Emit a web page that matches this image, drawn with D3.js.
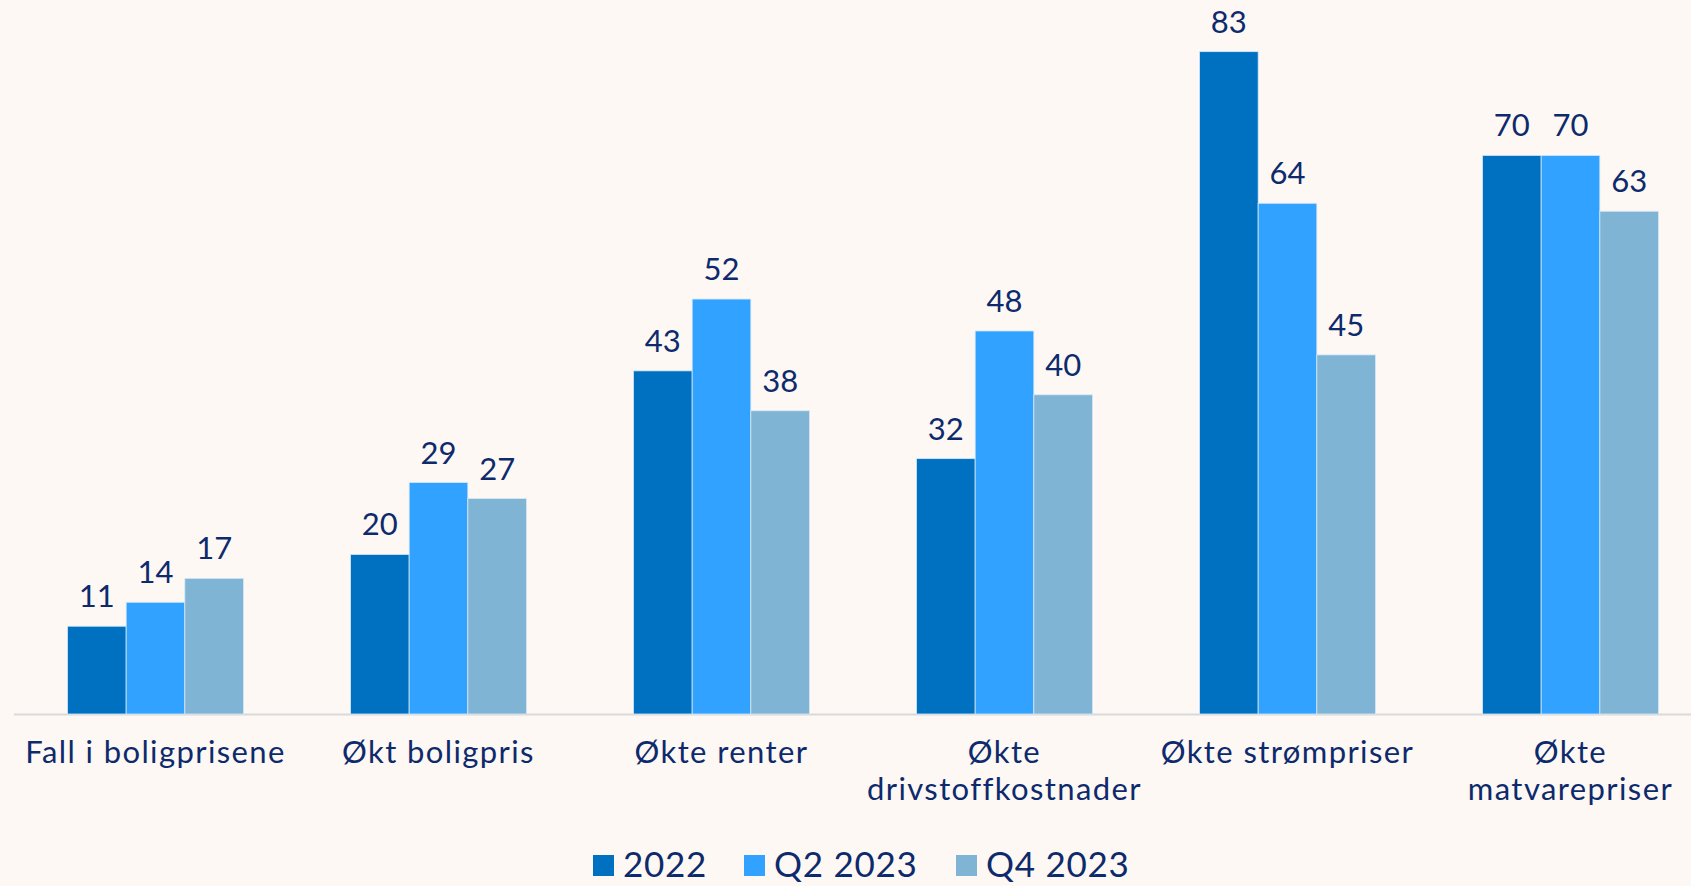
<!DOCTYPE html>
<html>
<head>
<meta charset="utf-8">
<script src="https://cdn.jsdelivr.net/npm/d3@7"></script>
<style>
    html, body { margin: 0; padding: 0; background: #fdf8f4; overflow: hidden; }
    svg { display: block; }
    text { font-family: "Lato", "Noto Sans", sans-serif; fill: #0d2a6c; }
</style>
</head>
<body>
<script>
(function () {

//chart data
    var categories = [
        ["Fall i boligprisene"],
        ["Økt boligpris"],
        ["Økte renter"],
        ["Økte", "drivstoffkostnader"],
        ["Økte strømpriser"],
        ["Økte", "matvarepriser"]
    ];
    var seriesNames = ["2022", "Q2 2023", "Q4 2023"];
    var values2022 = [11, 20, 43, 32, 83, 70];
    var valuesQ2 = [14, 29, 52, 48, 64, 70];
    var valuesQ4 = [17, 27, 38, 40, 45, 63];
    var colors = ["#0070c0", "#31a2ff", "#80b4d4"];

    var width = 1691,
        height = 886,
        baseY = 714;

    var svg = d3.select("body")
        .append("svg")
        .attr("width", width)
        .attr("height", height);

    svg.append("rect")
        .attr("width", width)
        .attr("height", height)
        .attr("fill", "#fdf8f4");

    //group scale runs past the right edge, like the original
    var x0 = d3.scaleBand()
        .domain(d3.range(categories.length))
        .range([14, 1712])
        .paddingInner(0.378)
        .paddingOuter(0.189);

    var x1 = d3.scaleBand()
        .domain(d3.range(seriesNames.length))
        .range([0, x0.bandwidth()]);

    var y = d3.scaleLinear()
        .domain([0, 90])
        .range([baseY, baseY - 90 * 7.98]);

    //build rows for the bars
    var allSeries = [values2022, valuesQ2, valuesQ4];
    var rows = [];
    for (var c = 0; c < categories.length; c++) {
        for (var s = 0; s < allSeries.length; s++) {
            rows.push({cat: c, ser: s, val: allSeries[s][c]});
        }
    }

    //baseline
    svg.append("line")
        .attr("x1", 14)
        .attr("x2", width)
        .attr("y1", baseY + 0.5)
        .attr("y2", baseY + 0.5)
        .attr("stroke", "#d9d9d9")
        .attr("stroke-width", 2);

    svg.selectAll(".bar")
        .data(rows)
        .enter()
        .append("rect")
        .attr("class", "bar")
        .attr("x", function (d) { return x0(d.cat) + x1(d.ser); })
        .attr("width", x1.bandwidth())
        .attr("y", function (d) { return y(d.val); })
        .attr("height", function (d) { return baseY - y(d.val); })
        .attr("fill", function (d) { return colors[d.ser]; })
        .attr("stroke", "#d6e8f7")
        .attr("stroke-width", 0.8);

    //value labels
    svg.selectAll(".val")
        .data(rows)
        .enter()
        .append("text")
        .attr("class", "val")
        .attr("x", function (d) { return x0(d.cat) + x1(d.ser) + x1.bandwidth() / 2; })
        .attr("y", function (d) { return y(d.val) - 19; })
        .attr("text-anchor", "middle")
        .style("font-size", "31px")
        .text(function (d) { return d.val; });

    //category labels
    var catLabels = svg.selectAll(".cat")
        .data(categories)
        .enter()
        .append("text")
        .attr("class", "cat")
        .attr("x", function (d, i) { return x0(i) + x0.bandwidth() / 2; })
        .attr("y", 763)
        .attr("text-anchor", "middle")
        .style("font-size", "31px")
        .style("letter-spacing", "1.4px");

    catLabels.selectAll("tspan")
        .data(function (d, i) { return d.map(function (t) { return {t: t, i: i}; }); })
        .enter()
        .append("tspan")
        .attr("x", function (d) { return x0(d.i) + x0.bandwidth() / 2; })
        .attr("dy", function (d, k) { return k === 0 ? 0 : 37; })
        .text(function (d) { return d.t; });

    //legend
    var legendX = [593, 744, 956];
    var legend = svg.selectAll(".legend")
        .data(seriesNames)
        .enter()
        .append("g")
        .attr("class", "legend")
        .attr("transform", function (d, i) { return "translate(" + legendX[i] + ",855)"; });

    legend.append("rect")
        .attr("width", 21)
        .attr("height", 21)
        .attr("fill", function (d, i) { return colors[i]; });

    legend.append("text")
        .attr("x", 30)
        .attr("y", 22)
        .style("font-size", "35px")
        .style("letter-spacing", "0.7px")
        .text(function (d) { return d; });

})();
</script>
</body>
</html>
